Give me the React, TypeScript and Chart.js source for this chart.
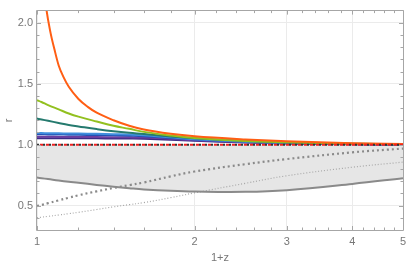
import React, { useEffect, useRef } from 'react';
import { Chart, registerables } from 'chart.js';
Chart.register(...registerables);

const xs = [1, 1.02, 1.05, 1.1, 1.15, 1.2, 1.3, 1.4, 1.5, 1.6, 1.8, 2, 2.5, 3, 4, 5];
const orangeXs = [1, 1.02, 1.04, 1.06, 1.08, 1.1, 1.125, 1.15, 1.2, 1.25, 1.3, 1.4, 1.5, 1.6, 1.8, 2, 2.5, 3, 4, 5];
const orangeR = [3.2, 2.5, 2.14, 1.93, 1.78, 1.65, 1.55, 1.475, 1.375, 1.31, 1.262, 1.2, 1.155, 1.125, 1.09, 1.069, 1.043, 1.028, 1.012, 1.005];
const greenR = [1.365, 1.35, 1.325, 1.29, 1.256, 1.23, 1.19, 1.155, 1.13, 1.105, 1.075, 1.055, 1.03, 1.02, 1.008, 1.003];
const tealR = [1.214, 1.207, 1.196, 1.178, 1.162, 1.15, 1.128, 1.11, 1.097, 1.088, 1.068, 1.052, 1.03, 1.018, 1.008, 1.003];
const lightBlueR = [1.095, 1.095, 1.094, 1.093, 1.092, 1.091, 1.089, 1.086, 1.083, 1.078, 1.06, 1.045, 1.025, 1.015, 1.006, 1.002];
const blueR = [1.085, 1.085, 1.084, 1.083, 1.082, 1.081, 1.079, 1.077, 1.074, 1.07, 1.055, 1.042, 1.023, 1.014, 1.006, 1.002];
const purpleR = [1.065, 1.065, 1.065, 1.064, 1.064, 1.063, 1.062, 1.061, 1.06, 1.058, 1.048, 1.036, 1.02, 1.012, 1.005, 1.002];
const indigoR = [1.053, 1.053, 1.053, 1.053, 1.052, 1.052, 1.052, 1.051, 1.05, 1.048, 1.04, 1.032, 1.018, 1.01, 1.004, 1.001];
const unityR = [1, 1, 1, 1, 1, 1, 1, 1, 1, 1, 1, 1, 1, 1, 1, 1];
const boundR = [0.73, 0.725, 0.718, 0.706, 0.696, 0.688, 0.67, 0.655, 0.643, 0.633, 0.621, 0.615, 0.613, 0.627, 0.678, 0.725];
const dashedR = [0.497, 0.505, 0.52, 0.543, 0.565, 0.585, 0.617, 0.645, 0.668, 0.69, 0.74, 0.78, 0.84, 0.882, 0.937, 0.968];
const dottedR = [0.4, 0.405, 0.412, 0.423, 0.434, 0.445, 0.468, 0.49, 0.508, 0.525, 0.565, 0.605, 0.683, 0.745, 0.815, 0.857];

const xMajor = [1, 2, 3, 4, 5];
const xMinor = [1.2, 1.4, 1.6, 1.8, 2.2, 2.4, 2.6, 2.8, 3.2, 3.4, 3.6, 3.8, 4.2, 4.4, 4.6, 4.8];
const yMajor = [0.5, 1.0, 1.5, 2.0];
const yMinor = [0.4, 0.6, 0.7, 0.8, 0.9, 1.1, 1.2, 1.3, 1.4, 1.6, 1.7, 1.8, 1.9];

const pts = (ys: number[], xv: number[] = xs) => xv.map((x, i) => ({ x, y: ys[i] }));

const frameTicks = {
  id: 'frameTicks',
  afterDatasetsDraw(chart: any) {
    const { ctx, chartArea, scales } = chart;
    const { left, right, top, bottom } = chartArea;
    const sx = scales.x, sy = scales.y;
    ctx.save();
    ctx.strokeStyle = '#a6a6a6';
    ctx.lineWidth = 1;
    ctx.beginPath();
    ctx.rect(Math.round(left) - 0.5, Math.round(top) - 0.5, Math.round(right - left) + 1, Math.round(bottom - top) + 1);
    ctx.stroke();
    ctx.beginPath();
    const tx = (v: number, len: number) => {
      const p = Math.round(sx.getPixelForValue(v)) + 0.5;
      ctx.moveTo(p, bottom); ctx.lineTo(p, bottom - len);
      ctx.moveTo(p, top); ctx.lineTo(p, top + len);
    };
    const ty = (v: number, len: number) => {
      const p = Math.round(sy.getPixelForValue(v)) + 0.5;
      ctx.moveTo(left, p); ctx.lineTo(left + len, p);
      ctx.moveTo(right, p); ctx.lineTo(right - len, p);
    };
    xMajor.forEach(v => tx(v, 4));
    xMinor.forEach(v => tx(v, 2.5));
    yMajor.forEach(v => ty(v, 4));
    yMinor.forEach(v => ty(v, 2.5));
    ctx.stroke();
    ctx.restore();
  },
};

export default function App() {
  const ref = useRef<HTMLCanvasElement | null>(null);
  useEffect(() => {
    document.body.style.margin = '0';
    if (!ref.current) return;
    const line = (data: any[], color: string, width: number, extra: any = {}) => ({
      data,
      borderColor: color,
      backgroundColor: color,
      borderWidth: width,
      pointRadius: 0,
      tension: 0.4,
      fill: false,
      ...extra,
    });
    const chart = new Chart(ref.current, {
      type: 'line',
      data: {
        datasets: [
          line(pts(unityR), '#333333', 2, { borderDash: [2, 4], borderDashOffset: 0, tension: 0 }),
          line(pts(unityR), '#ee2222', 2, { borderDash: [3, 3], borderDashOffset: 3, tension: 0 }),
          line(pts(orangeR, orangeXs), '#ff5e14', 2, { cubicInterpolationMode: 'monotone' }),
          line(pts(greenR), '#92c01f', 2),
          line(pts(tealR), '#257a6e', 2),
          line(pts(lightBlueR), '#3f8ede', 2),
          line(pts(blueR), '#2450b4', 2),
          line(pts(purpleR), '#6b3ea0', 2),
          line(pts(indigoR), '#3b2b86', 2),
          line(pts(boundR), '#8a8a8a', 2, { fill: { value: 1 }, backgroundColor: '#e6e6e6' }),
          line(pts(dashedR), '#8a8a8a', 2.2, { borderDash: [2, 3] }),
          line(pts(dottedR), '#a8a8a8', 1.2, { borderDash: [1, 2] }),
        ] as any,
      },
      options: {
        animation: false,
        responsive: false,
        layout: { padding: { top: 3, right: 4, left: 0, bottom: 0 } },
        plugins: {
          legend: { display: false },
          tooltip: { enabled: false },
          filler: { drawTime: 'beforeDatasetsDraw' } as any,
        },
        scales: {
          x: {
            type: 'logarithmic',
            min: 1,
            max: 5,
            afterBuildTicks: (s: any) => { s.ticks = xMajor.map(v => ({ value: v })); },
            afterFit: (s: any) => { s.height = 35; s.paddingRight = 0; s.paddingLeft = 0; },
            border: { display: false },
            grid: { color: '#ebebeb', drawTicks: false },
            ticks: {
              color: '#777777',
              font: { family: 'Liberation Sans', size: 11 },
              padding: 5,
              maxRotation: 0,
              autoSkip: false,
              callback: (v: any) => String(v),
            },
            title: {
              display: true,
              text: '1+z',
              color: '#777777',
              font: { family: 'Liberation Sans', size: 11 },
              padding: { top: 0, bottom: 0 },
            },
          },
          y: {
            min: 0.3,
            max: 2.1,
            afterBuildTicks: (s: any) => { s.ticks = yMajor.map(v => ({ value: v })); },
            afterFit: (s: any) => { s.width = 37; },
            border: { display: false },
            grid: { color: '#ebebeb', drawTicks: false },
            ticks: {
              color: '#777777',
              font: { family: 'Liberation Sans', size: 11 },
              padding: 4,
              callback: (v: any) => Number(v).toFixed(1),
            },
            title: {
              display: true,
              text: 'r',
              color: '#777777',
              font: { family: 'Liberation Sans', size: 11 },
              padding: { top: 2, bottom: 2 },
            },
          },
        },
      },
      plugins: [frameTicks],
    } as any);
    return () => chart.destroy();
  }, []);
  return (
    <div style={{ width: 407, height: 265 }}>
      <canvas ref={ref} width={407} height={265} />
    </div>
  );
}
